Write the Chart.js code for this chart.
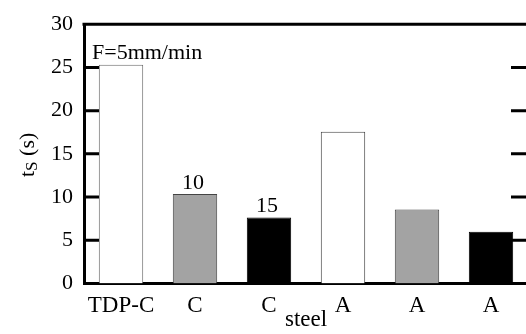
<!DOCTYPE html>
<html>
<head>
<meta charset="utf-8">
<script src="https://cdn.jsdelivr.net/npm/chart.js@4/dist/chart.umd.min.js"></script>
<style>
html,body{margin:0;padding:0;background:#fff;overflow:hidden;width:526px;height:334px;}
canvas{display:block;}
</style>
</head>
<body>
<canvas id="c" width="530" height="334"></canvas>
<script>
const categories = ['TDP-C', 'C', 'C', 'A', 'A', 'A'];
const values = [25.3, 10.35, 7.65, 17.55, 8.55, 6.0];
const fillColors = ['#ffffff', '#a3a3a3', '#000000', '#ffffff', '#a3a3a3', '#000000'];
const edgeColors = ['#6a6a6a', '#444444', '#000000', '#444444', '#444444', '#000000'];
const barLabels = ['', '10', '15', '', '', ''];
const yTicks = [0, 5, 10, 15, 20, 25, 30];
const innerTicks = [5, 10, 15, 20, 25];
const noteText = 'F=5mm/min';
const xTitle = 'steel';

const FONT = "'Liberation Serif', 'Times New Roman', serif";

const framePlugin = {
  id: 'frame',
  afterDraw(chart) {
    const ctx = chart.ctx;
    const {left, right, top, bottom} = chart.chartArea;
    const y = chart.scales.y;
    const x = chart.scales.x;
    ctx.save();
    ctx.strokeStyle = '#000';
    ctx.lineWidth = 3;
    ctx.beginPath();
    ctx.moveTo(left - 1.5, top);
    ctx.lineTo(right + 1.5, top);
    ctx.moveTo(right, top);
    ctx.lineTo(right, bottom);
    ctx.stroke();
    ctx.beginPath();
    innerTicks.forEach(v => {
      const py = y.getPixelForValue(v);
      ctx.moveTo(left, py);
      ctx.lineTo(left + 15, py);
      ctx.moveTo(right - 17, py);
      ctx.lineTo(right, py);
    });
    ctx.stroke();

    ctx.fillStyle = '#000';
    ctx.font = '22px ' + FONT;
    ctx.textAlign = 'center';
    ctx.textBaseline = 'alphabetic';
    barLabels.forEach((t, i) => {
      if (!t) return;
      const px = x.getPixelForValue(i);
      const py = y.getPixelForValue(values[i]);
      ctx.fillText(t, px - 2, py - 5);
    });

    ctx.textAlign = 'left';
    ctx.font = '22px ' + FONT;
    ctx.fillText(noteText, left + 8, top + 35);

    // y title: t_S (s)
    ctx.translate(34, 177);
    ctx.rotate(-Math.PI / 2);
    ctx.textAlign = 'left';
    ctx.font = '22px ' + FONT;
    ctx.fillText('t', 0, 0);
    let w = ctx.measureText('t').width;
    ctx.font = '17px ' + FONT;
    ctx.fillText('S', w, 3);
    w += ctx.measureText('S').width;
    ctx.font = '22px ' + FONT;
    ctx.fillText(' (s)', w, 0);
    ctx.restore();
  }
};

new Chart(document.getElementById('c'), {
  type: 'bar',
  data: {
    labels: categories,
    datasets: [{
      data: values,
      backgroundColor: fillColors,
      borderColor: edgeColors,
      borderWidth: 1,
      barPercentage: 0.6,
      categoryPercentage: 1.0
    }]
  },
  options: {
    responsive: false,
    animation: false,
    events: [],
    layout: {padding: {top: 17.5, right: 2, left: 0, bottom: 0}},
    plugins: {legend: {display: false}, tooltip: {enabled: false}},
    scales: {
      x: {
        grid: {display: false, drawTicks: false},
        border: {display: true, color: '#000', width: 3},
        ticks: {color: '#000', font: {family: FONT, size: 23}, padding: 9, maxRotation: 0, autoSkip: false},
        title: {display: true, text: xTitle, color: '#000', font: {family: FONT, size: 23}, padding: {top: 0, bottom: 0}},
        afterFit(s) { s.height = 50.5; }
      },
      y: {
        min: 0, max: 30,
        afterBuildTicks(s) { s.ticks = yTicks.map(v => ({value: v})); },
        grid: {display: false, drawTicks: false},
        border: {display: true, color: '#000', width: 3},
        ticks: {color: '#000', font: {family: FONT, size: 22}, padding: 11},
        afterFit(s) { s.width = 84; }
      }
    }
  },
  plugins: [framePlugin]
});
</script>
</body>
</html>
